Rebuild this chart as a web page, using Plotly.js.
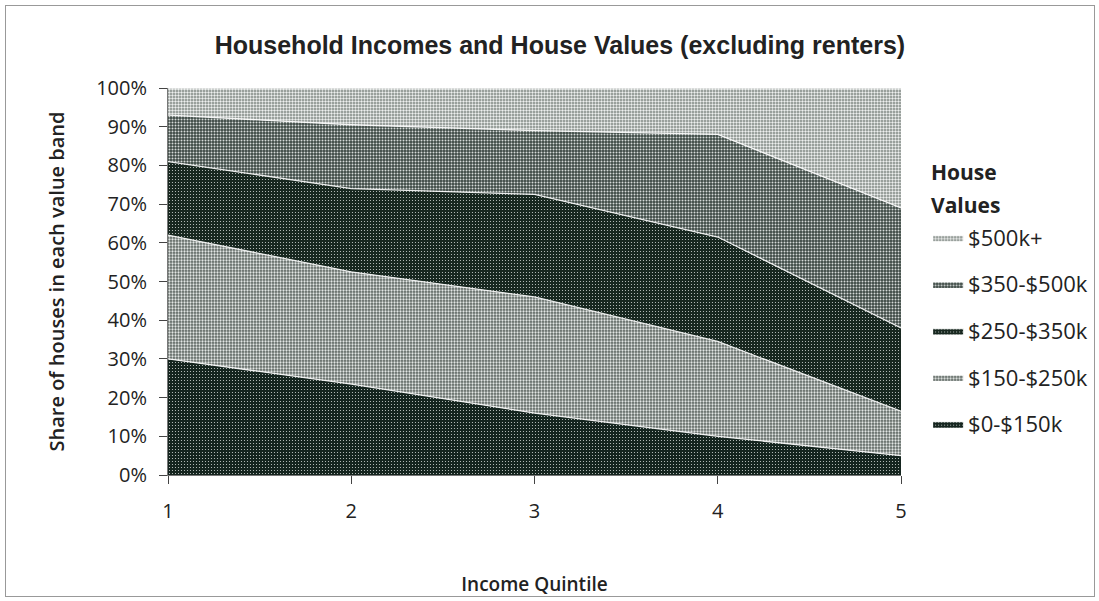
<!DOCTYPE html>
<html><head><meta charset="utf-8">
<script src="https://cdn.plot.ly/plotly-3.0.1.min.js"></script>
<style>
html,body{margin:0;padding:0;background:#fff;}
#frame{position:absolute;left:5px;top:5px;width:1088px;height:590px;border:1px solid #999;pointer-events:none;}
#chart{width:1099px;height:601px;}
</style></head>
<body>
<div id="chart"></div>
<div id="frame"></div>
<script>
const quintiles = [1, 2, 3, 4, 5];
const seriesNames = ["$0-$150k", "$150-$250k", "$250-$350k", "$350-$500k", "$500k+"];
const band0_150 = [30, 23.5, 16, 10, 5];
const band150_250 = [32, 29, 30, 24.5, 11.5];
const band250_350 = [19, 21.5, 26.5, 27, 21.5];
const band350_500 = [12, 16.5, 16.5, 26.5, 31];
const band500plus = [7, 9.5, 11, 12, 31];
const yTickVals = [0,10,20,30,40,50,60,70,80,90,100];
const yTickText = ["0%","10%","20%","30%","40%","50%","60%","70%","80%","90%","100%"];
const legendTitleLines = ["House", "Values"];

const seriesValues = [band0_150, band150_250, band250_350, band350_500, band500plus];
const bg = ["#14241e", "#5d6662", "#17271f", "#3c4843", "#7d8581"];
const fg = ["#c9cfcc", "#e2e6e4", "#c9cfcc", "#d6dbd9", "#eef0ef"];
const sol = [0.12, 0.45, 0.12, 0.35, 0.5];

const traces = seriesValues.map((vals, i) => ({
  x: quintiles, y: vals, name: seriesNames[i],
  type: "scatter", mode: "lines", stackgroup: "one",
  legendgroup: "g" + i, legendrank: 100 - i * 10,
  line: {color: "rgba(255,255,255,0.85)", width: 1.3},
  fillcolor: bg[i],
  fillpattern: {shape: ".", bgcolor: bg[i], fgcolor: fg[i], size: 3, solidity: sol[i]}
}));

const F = "'Open Sans', Lato, sans-serif";
const layout = {
  width: 1099, height: 601,
  margin: {l: 168, r: 198, t: 88, b: 126, autoexpand: false},
  paper_bgcolor: "#fff", plot_bgcolor: "#fff",
  font: {family: F, color: "#222", size: 20},
  title: {text: "<b>Household Incomes and House Values (excluding renters)</b>",
          x: 0.5095, xanchor: "center", y: 0.925, yanchor: "middle",
          font: {size: 25, family: "'Liberation Sans Narrow', 'Liberation Sans', sans-serif", color: "#222"}},
  xaxis: {range: [1, 5], tickvals: quintiles, ticks: "outside", ticklen: 8,
          showline: true, linecolor: "#777", showgrid: false, zeroline: false,
          tickfont: {size: 20}, ticklabelstandoff: 10,
          title: {text: "Income Quintile", font: {size: 19, weight: 600}, standoff: 54}},
  yaxis: {range: [0, 100], tickvals: yTickVals, ticktext: yTickText,
          ticks: "outside", ticklen: 8, showline: true, linecolor: "#777",
          showgrid: false, zeroline: false, tickfont: {size: 20}, ticklabelstandoff: 8,
          title: {text: "Share of houses in each value band", font: {size: 20, weight: 600}, standoff: 26}},
  legend: {x: 1.037, xanchor: "left", y: 0.668, yanchor: "top",
           traceorder: "grouped", tracegroupgap: 15, itemwidth: 30,
           font: {size: 22}},
  annotations: legendTitleLines.map((t, i) => ({
    text: "<b>" + t + "</b>", xref: "paper", yref: "paper",
    x: 1.038, xanchor: "left", y: (475 - 172 - i * 33) / 387, yanchor: "middle",
    showarrow: false, font: {size: 21, family: F, color: "#222"}
  })),
  showlegend: true
};

Plotly.newPlot("chart", traces, layout, {displayModeBar: false, staticPlot: true});
</script>
</body></html>
